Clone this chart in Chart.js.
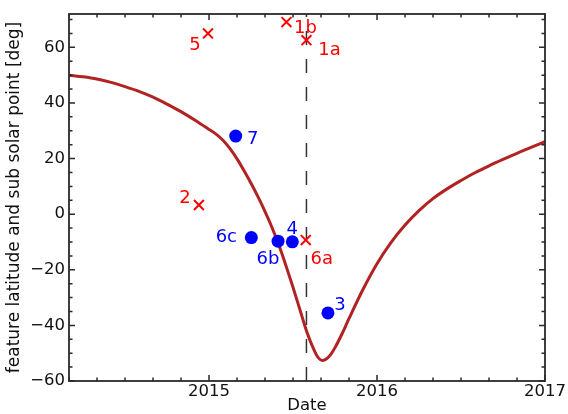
<!DOCTYPE html>
<html>
<head>
<meta charset="utf-8">
<script src="https://cdn.jsdelivr.net/npm/chart.js@4"></script>
<style>
  html, body { margin: 0; padding: 0; background: #fff; }
  #wrap { width: 568px; height: 414px; }
</style>
</head>
<body>
<div id="wrap"><canvas id="grafico" width="568" height="414"></canvas></div>
<script>
// sub solar latitude curve (decimal year, deg)
const curveYears = [2014.167, 2014.25, 2014.333, 2014.417, 2014.5, 2014.583, 2014.667, 2014.75,
  2014.833, 2014.917, 2015.0, 2015.042, 2015.083, 2015.125, 2015.167, 2015.208, 2015.25,
  2015.292, 2015.333, 2015.375, 2015.417, 2015.458, 2015.5, 2015.542, 2015.583,
  2015.625, 2015.65, 2015.675, 2015.7, 2015.725, 2015.75, 2015.792, 2015.833, 2015.917,
  2016.0, 2016.083, 2016.167, 2016.25, 2016.333, 2016.417, 2016.5, 2016.583, 2016.667,
  2016.75, 2016.833, 2016.917, 2017.0];
const curveLat = [50.0, 49.4, 48.6, 47.4, 45.9, 44.2, 42.1, 39.6,
  36.9, 33.8, 30.5, 28.8, 26.6, 23.6, 19.9, 15.7, 11.1,
  6.2, 1.0, -4.8, -11.3, -18.5, -26.3, -34.5, -42.5,
  -48.8, -51.6, -52.6, -52.0, -50.4, -48.0, -43.0, -37.6, -27.0,
  -17.8, -10.2, -3.9, 1.3, 5.6, 9.1, 12.1, 14.9, 17.4,
  19.7, 21.9, 24.0, 26.1];

// features shown as red crosses
const crossNames = ['5', '1b', '1a', '2', '6a'];
const crossYears = [2014.994, 2015.461, 2015.58, 2014.94, 2015.576];
const crossLat = [65.0, 69.1, 62.6, 3.3, -9.3];

// features shown as blue dots
const dotNames = ['7', '6c', '6b', '4', '3'];
const dotYears = [2015.159, 2015.252, 2015.411, 2015.496, 2015.708];
const dotLat = [28.1, -8.4, -9.7, -9.95, -35.5];

// dashed marker (perihelion)
const markerYear = 2015.58;

const xTicks = [2015, 2016, 2017];
const yTicks = [-60, -40, -20, 0, 20, 40, 60];
const xMin = 2014 + 1 / 6, xMax = 2017;
const yMin = -60, yMax = 72;

// label offsets in px from the mark
const crossOffsets = [[-13, 12], [19, 6], [23, 10], [-14, -7], [16, 19]];
const dotOffsets = [[17, 3], [-25, 0], [-10, 18], [0, -13], [12, -8]];

const FONT = 'DejaVu Sans';

const pts = (xs, ys) => xs.map((x, i) => ({ x: x, y: ys[i] }));

const etiquetas = {
  id: 'etiquetas',
  afterDatasetsDraw(chart) {
    const c = chart.ctx, sx = chart.scales.x, sy = chart.scales.y;
    c.save();
    c.font = '18px "' + FONT + '"';
    c.textAlign = 'center';
    c.textBaseline = 'middle';
    c.fillStyle = '#ff0000';
    crossNames.forEach((n, i) => {
      c.fillText(n, sx.getPixelForValue(crossYears[i]) + crossOffsets[i][0],
        sy.getPixelForValue(crossLat[i]) + crossOffsets[i][1]);
    });
    c.fillStyle = '#0000ff';
    dotNames.forEach((n, i) => {
      c.fillText(n, sx.getPixelForValue(dotYears[i]) + dotOffsets[i][0],
        sy.getPixelForValue(dotLat[i]) + dotOffsets[i][1]);
    });
    c.restore();
  }
};

// frame + inward ticks on all four sides
const marco = {
  id: 'marco',
  afterDraw(chart) {
    const c = chart.ctx, a = chart.chartArea, sx = chart.scales.x, sy = chart.scales.y;
    c.save();
    c.strokeStyle = '#2a2a2a';
    c.lineWidth = 1.5;
    c.beginPath();
    for (let k = 0; k <= 17; k++) {
      const v = xMin + k / 6;
      const px = sx.getPixelForValue(v);
      const len = Math.abs(v - Math.round(v)) < 1e-6 ? 6 : 3.5;
      c.moveTo(px, a.bottom); c.lineTo(px, a.bottom - len);
      c.moveTo(px, a.top); c.lineTo(px, a.top + len);
    }
    for (let v = yMin; v <= yMax; v += 5) {
      const py = sy.getPixelForValue(v);
      const len = v % 20 === 0 ? 6 : 3.5;
      c.moveTo(a.left, py); c.lineTo(a.left + len, py);
      c.moveTo(a.right, py); c.lineTo(a.right - len, py);
    }
    c.stroke();
    c.lineWidth = 1.8;
    c.strokeRect(a.left, a.top, a.right - a.left, a.bottom - a.top);
    c.restore();
  }
};

const ctx = document.getElementById('grafico').getContext('2d');
const grafico = new Chart(ctx, {
  type: 'line',
  data: {
    datasets: [
      {
        data: pts(curveYears, curveLat),
        borderColor: '#b22222',
        borderWidth: 3,
        pointRadius: 0,
        cubicInterpolationMode: 'monotone',
        order: 3
      },
      {
        data: [{ x: markerYear, y: yMin }, { x: markerYear, y: yMax }],
        borderColor: '#333',
        borderWidth: 1.5,
        borderDash: [14, 14],
        pointRadius: 0,
        order: 4
      },
      {
        data: pts(crossYears, crossLat),
        showLine: false,
        pointStyle: 'crossRot',
        pointRadius: 7,
        borderColor: '#ff0000',
        borderWidth: 2,
        clip: false,
        order: 1
      },
      {
        data: pts(dotYears, dotLat),
        showLine: false,
        pointStyle: 'circle',
        pointRadius: 6.5,
        backgroundColor: '#0000ff',
        borderWidth: 0,
        clip: false,
        order: 2
      }
    ]
  },
  options: {
    responsive: false,
    animation: false,
    events: [],
    layout: { padding: { top: 14, right: 23, left: 0, bottom: 0 } },
    plugins: { legend: { display: false }, tooltip: { enabled: false } },
    scales: {
      x: {
        type: 'linear',
        min: xMin,
        max: xMax,
        afterFit: s => { s.height = 33; },
        afterBuildTicks: s => { s.ticks = xTicks.map(v => ({ value: v })); },
        grid: { display: false, drawTicks: false },
        border: { display: false },
        ticks: { padding: 1, color: '#111', font: { family: FONT, size: 16.5 }, maxRotation: 0, autoSkip: false,
          callback: v => String(v) },
        title: { display: true, text: 'Date', color: '#111', font: { family: FONT, size: 16.5, lineHeight: 1 },
          padding: { top: -5, bottom: 0 } }
      },
      y: {
        min: yMin,
        max: yMax,
        afterFit: s => { s.width = 69; },
        afterBuildTicks: s => { s.ticks = yTicks.map(v => ({ value: v })); },
        grid: { display: false, drawTicks: false },
        border: { display: false },
        ticks: { padding: 4, color: '#111', font: { family: FONT, size: 16.5 }, autoSkip: false,
          callback: v => v < 0 ? '\u2212' + Math.abs(v) : String(v) },
        title: { display: true, text: 'feature latitude and sub solar point [deg]', color: '#111',
          font: { family: FONT, size: 17, lineHeight: 1 }, padding: { top: 6, bottom: 0 } }
      }
    }
  },
  plugins: [etiquetas, marco]
});
</script>
</body>
</html>
